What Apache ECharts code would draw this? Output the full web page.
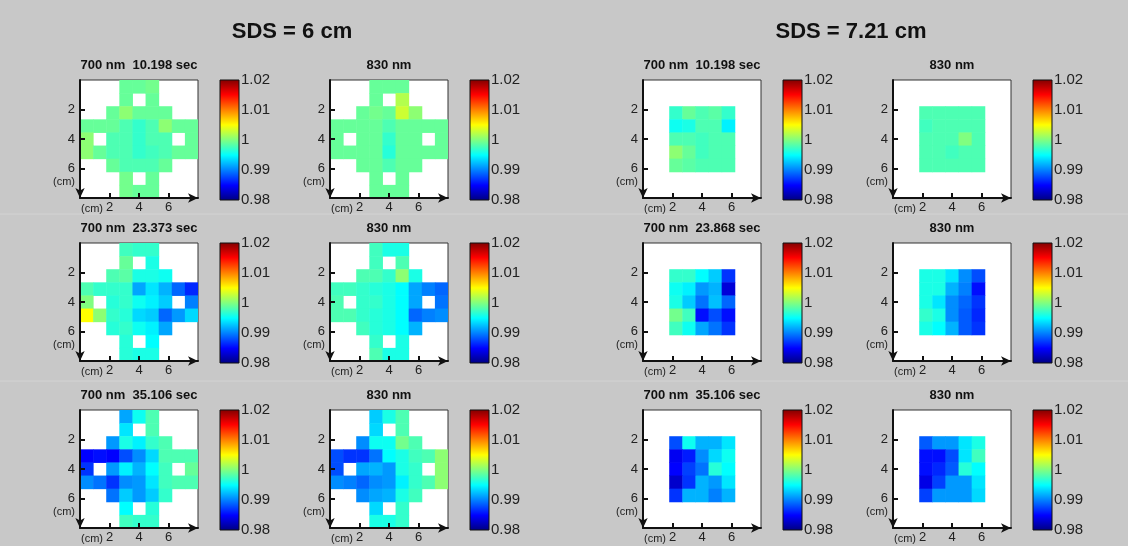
<!DOCTYPE html>
<html>
<head>
<meta charset="utf-8">
<script src="https://cdn.jsdelivr.net/npm/echarts@6/dist/echarts.min.js"></script>
<style>
  html, body { margin: 0; padding: 0; background: #c8c8c8; }
  #main { width: 1128px; height: 546px; }
</style>
</head>
<body>
<div id="main"></div>
<script>
// colour scale (jet) and limits of the colour bar
var SCALE_MIN = 0.98, SCALE_MAX = 1.02;
var JET = ['#000080', '#0000ff', '#0080ff', '#00ffff', '#80ff80', '#ffff00', '#ff8000', '#ff0000', '#800000'];
var CELL = 8 / 9;      // cm per pixel of the image grid
var TICKS = [2, 4, 6];

var n = null;
// SDS = 6 cm, 9 x 9 grid (rows from top)
var sds6_700_t1 = [
  [n, n, n, 0.999, 0.999, 0.9995, n, n, n],
  [n, n, n, 0.999, n, 0.999, n, n, n],
  [n, n, 0.999, 1.0005, 0.999, 0.999, 0.999, n, n],
  [0.999, 0.999, 0.999, 0.998, 0.997, 0.998, 1.0005, 0.999, 0.999],
  [1.0005, n, 0.998, 0.998, 0.997, 0.998, 0.998, n, 0.999],
  [1.0005, 0.999, 0.998, 0.998, 0.997, 0.9975, 0.998, 0.999, 0.999],
  [n, n, 0.999, 0.998, 0.998, 0.998, 0.999, n, n],
  [n, n, n, 0.9995, n, 0.999, n, n, n],
  [n, n, n, 0.9995, 0.999, 0.999, n, n, n]
];
var sds6_830_t1 = [
  [n, n, n, 0.999, 0.999, 0.999, n, n, n],
  [n, n, n, 0.999, n, 1.002, n, n, n],
  [n, n, 0.999, 0.9995, 0.999, 1.003, 1.0005, n, n],
  [0.999, 0.999, 0.999, 0.999, 0.998, 0.999, 0.999, 0.999, 0.999],
  [0.999, n, 0.999, 0.999, 0.997, 0.999, 0.999, n, 0.999],
  [0.999, 0.999, 0.999, 0.999, 0.9965, 0.999, 0.999, 0.999, 0.999],
  [n, n, 0.999, 0.999, 0.998, 0.999, 0.999, n, n],
  [n, n, n, 0.999, n, 0.999, n, n, n],
  [n, n, n, 0.999, 0.999, 0.999, n, n, n]
];
var sds6_700_t2 = [
  [n, n, n, 0.9975, 0.997, 0.997, n, n, n],
  [n, n, n, 0.999, n, 0.996, n, n, n],
  [n, n, 0.998, 0.9985, 0.996, 0.996, 0.9955, n, n],
  [0.998, 0.997, 0.997, 0.997, 0.9915, 0.994, 0.992, 0.989, 0.9865],
  [1.000, n, 0.9965, 0.997, 0.9955, 0.9945, 0.993, n, 0.990],
  [1.005, 1.0005, 0.997, 0.9965, 0.9935, 0.993, 0.989, 0.991, 0.9935],
  [n, n, 0.9965, 0.997, 0.9955, 0.9945, 0.9915, n, n],
  [n, n, n, 0.9965, n, 0.995, n, n, n],
  [n, n, n, 0.9965, 0.996, 0.996, n, n, n]
];
var sds6_830_t2 = [
  [n, n, n, 0.9975, 0.996, 0.996, n, n, n],
  [n, n, n, 0.9975, n, 0.998, n, n, n],
  [n, n, 0.998, 0.998, 0.997, 1.0005, 0.996, n, n],
  [0.9975, 0.9975, 0.997, 0.9965, 0.996, 0.995, 0.9915, 0.990, 0.989],
  [0.998, n, 0.997, 0.997, 0.996, 0.995, 0.9915, n, 0.9895],
  [0.998, 0.998, 0.997, 0.9965, 0.996, 0.995, 0.989, 0.990, 0.9905],
  [n, n, 0.9975, 0.9965, 0.996, 0.995, 0.992, n, n],
  [n, n, n, 0.997, n, 0.996, n, n, n],
  [n, n, n, 0.998, 0.996, 0.996, n, n, n]
];
var sds6_700_t3 = [
  [n, n, n, 0.9915, 0.9955, 0.998, n, n, n],
  [n, n, n, 0.994, n, 0.998, n, n, n],
  [n, n, 0.991, 0.996, 0.9945, 0.997, 0.998, n, n],
  [0.985, 0.9855, 0.985, 0.988, 0.9905, 0.9935, 0.998, 0.998, 0.998],
  [0.987, n, 0.991, 0.9945, 0.992, 0.995, 0.9975, n, 0.999],
  [0.9905, 0.9895, 0.987, 0.9905, 0.991, 0.994, 0.9975, 0.998, 0.998],
  [n, n, 0.9895, 0.993, 0.991, 0.993, 0.997, n, n],
  [n, n, n, 0.995, n, 0.9965, n, n, n],
  [n, n, n, 0.9975, 0.997, 0.997, n, n, n]
];
var sds6_830_t3 = [
  [n, n, n, 0.993, 0.996, 0.998, n, n, n],
  [n, n, n, 0.9935, n, 0.998, n, n, n],
  [n, n, 0.9905, 0.9955, 0.9955, 0.9995, 0.998, n, n],
  [0.988, 0.987, 0.987, 0.9895, 0.995, 0.996, 0.9975, 0.998, 1.0005],
  [0.988, n, 0.9915, 0.992, 0.991, 0.996, 0.997, n, 1.0005],
  [0.9905, 0.990, 0.989, 0.9905, 0.991, 0.9945, 0.997, 0.998, 1.0005],
  [n, n, 0.9905, 0.9915, 0.992, 0.996, 0.9975, n, n],
  [n, n, n, 0.9935, n, 0.997, n, n, n],
  [n, n, n, 0.996, 0.996, 0.997, n, n, n]
];
// SDS = 7.21 cm, 5 x 5 grid starting at grid cell 2
var sds7_700_t1 = [
  [0.997, 0.999, 0.998, 0.9985, 0.997],
  [0.9955, 0.996, 0.998, 0.998, 0.9945],
  [0.998, 0.998, 0.9975, 0.998, 0.998],
  [1.0005, 0.999, 0.9975, 0.998, 0.998],
  [0.999, 0.9985, 0.998, 0.998, 0.998]
];
var sds7_830_t1 = [
  [0.998, 0.998, 0.998, 0.998, 0.998],
  [0.9975, 0.998, 0.998, 0.998, 0.998],
  [0.998, 0.998, 0.998, 1.000, 0.998],
  [0.998, 0.998, 0.9975, 0.998, 0.998],
  [0.998, 0.998, 0.998, 0.998, 0.998]
];
var sds7_700_t2 = [
  [0.997, 0.997, 0.995, 0.993, 0.987],
  [0.9955, 0.9945, 0.991, 0.992, 0.9835],
  [0.996, 0.993, 0.9895, 0.9925, 0.989],
  [0.9995, 0.9975, 0.9855, 0.988, 0.9855],
  [0.9975, 0.9955, 0.9915, 0.9895, 0.987]
];
var sds7_830_t2 = [
  [0.996, 0.996, 0.994, 0.9905, 0.988],
  [0.996, 0.996, 0.992, 0.990, 0.9855],
  [0.996, 0.994, 0.9905, 0.989, 0.987],
  [0.997, 0.996, 0.9905, 0.9885, 0.9865],
  [0.996, 0.995, 0.992, 0.9885, 0.987]
];
var sds7_700_t3 = [
  [0.988, 0.9955, 0.992, 0.992, 0.994],
  [0.9845, 0.986, 0.9905, 0.9935, 0.9955],
  [0.985, 0.9875, 0.9895, 0.9965, 0.995],
  [0.983, 0.987, 0.992, 0.991, 0.994],
  [0.987, 0.992, 0.992, 0.990, 0.992]
];
var sds7_830_t3 = [
  [0.9885, 0.991, 0.991, 0.994, 0.996],
  [0.9855, 0.9855, 0.988, 0.994, 0.9975],
  [0.9855, 0.9865, 0.9885, 0.9965, 0.995],
  [0.984, 0.9875, 0.991, 0.991, 0.994],
  [0.9875, 0.991, 0.991, 0.991, 0.9935]
];

var groupTitles = ['SDS = 6 cm', 'SDS = 7.21 cm'];
var panelTitles = [
  ['700 nm  10.198 sec', '830 nm', '700 nm  10.198 sec', '830 nm'],
  ['700 nm  23.373 sec', '830 nm', '700 nm  23.868 sec', '830 nm'],
  ['700 nm  35.106 sec', '830 nm', '700 nm  35.106 sec', '830 nm']
];
var panelData = [
  [sds6_700_t1, sds6_830_t1, sds7_700_t1, sds7_830_t1],
  [sds6_700_t2, sds6_830_t2, sds7_700_t2, sds7_830_t2],
  [sds6_700_t3, sds6_830_t3, sds7_700_t3, sds7_830_t3]
];
var panelOffset = [0, 0, 2, 2];

(function () {
  // layout
  var colLeft = [80, 330, 643, 893];
  var barLeft = [220, 470, 783, 1033];
  var rowTop = [80, 243, 410];
  var PLOT = 118, BAR_W = 19, BAR_H = 120;
  var groupCenter = [292, 851];
  var FONT = 'Arial, "Liberation Sans", sans-serif';

  function renderCell(params, api) {
    var c = api.value(0), r = api.value(1);
    var a = api.coord([c * CELL, r * CELL]);
    var b = api.coord([(c + 1) * CELL, (r + 1) * CELL]);
    return {
      type: 'rect',
      shape: {
        x: Math.min(a[0], b[0]), y: Math.min(a[1], b[1]),
        width: Math.abs(b[0] - a[0]) + 0.5, height: Math.abs(b[1] - a[1]) + 0.5
      },
      style: { fill: api.visual('color') }
    };
  }

  var barGradient = JET.map(function (c, i) { return { offset: i / (JET.length - 1), color: c }; });
  function renderBar(params, api) {
    var a = api.coord([0, api.value(0)]);
    var b = api.coord([1, api.value(1)]);
    return {
      type: 'rect',
      shape: {
        x: Math.min(a[0], b[0]), y: Math.min(a[1], b[1]),
        width: Math.abs(b[0] - a[0]), height: Math.abs(b[1] - a[1])
      },
      style: {
        fill: new echarts.graphic.LinearGradient(0, 1, 0, 0, barGradient),
        stroke: '#111', lineWidth: 1
      }
    };
  }

  var grids = [], xAxes = [], yAxes = [], series = [], titles = [], graphics = [];
  var heatIdx = [];

  groupTitles.forEach(function (t, g) {
    titles.push({
      text: t, left: groupCenter[g], top: 21, textAlign: 'center', padding: 0,
      textStyle: { fontFamily: FONT, fontSize: 22, fontWeight: 'bold', color: '#111' }
    });
  });

  // faint seams between the stacked rows
  [214, 381].forEach(function (y) {
    graphics.push({ type: 'line', shape: { x1: 0, y1: y, x2: 1128, y2: y }, z: 0,
      style: { stroke: '#d3d3d3', lineWidth: 1 } });
  });

  for (var r = 0; r < 3; r++) {
    for (var c = 0; c < 4; c++) {
      var pl = colLeft[c], pt = rowTop[r];
      var mat = panelData[r][c], off = panelOffset[c];
      var data = [];
      for (var i = 0; i < mat.length; i++) {
        for (var j = 0; j < mat[i].length; j++) {
          if (mat[i][j] !== null) data.push([j + off, i + off, mat[i][j]]);
        }
      }

      titles.push({
        text: panelTitles[r][c], left: pl + PLOT / 2, top: pt - 21, textAlign: 'center', padding: 0,
        textStyle: { fontFamily: FONT, fontSize: 13, fontWeight: 'bold', color: '#111' }
      });

      // heat map grid
      var gi = grids.length;
      grids.push({ left: pl, top: pt, width: PLOT, height: PLOT, show: true,
        backgroundColor: '#fff', borderColor: '#333', borderWidth: 1 });
      xAxes.push({
        gridIndex: gi, type: 'value', min: 0, max: 8, position: 'bottom', z: 5,
        axisLine: { show: true, onZero: false, symbol: ['none', 'arrow'], symbolSize: [7, 10],
          lineStyle: { color: '#111', width: 2 } },
        axisTick: { show: true, inside: true, length: 5, customValues: TICKS, lineStyle: { color: '#111', width: 2 } },
        axisLabel: { customValues: TICKS, fontFamily: FONT, fontSize: 13, color: '#222', margin: 3 },
        splitLine: { show: false }
      });
      yAxes.push({
        gridIndex: gi, type: 'value', min: 0, max: 8, inverse: true, position: 'left', z: 5,
        axisLine: { show: true, onZero: false, symbol: ['arrow', 'none'], symbolSize: [7, 10],
          lineStyle: { color: '#111', width: 2 } },
        axisTick: { show: true, inside: true, length: 5, customValues: TICKS, lineStyle: { color: '#111', width: 2 } },
        axisLabel: { customValues: TICKS, fontFamily: FONT, fontSize: 13, color: '#222', margin: 5 },
        splitLine: { show: false }
      });
      heatIdx.push(series.length);
      series.push({ type: 'custom', xAxisIndex: gi, yAxisIndex: gi, renderItem: renderCell,
        data: data, clip: true, silent: true });

      // colour bar grid
      var bi = grids.length;
      grids.push({ left: barLeft[c], top: pt, width: BAR_W, height: BAR_H });
      xAxes.push({ gridIndex: bi, type: 'value', min: 0, max: 1, show: false });
      yAxes.push({
        gridIndex: bi, type: 'value', min: SCALE_MIN, max: SCALE_MAX, interval: 0.01, position: 'right',
        axisLine: { show: false }, axisTick: { show: false }, splitLine: { show: false },
        axisLabel: { fontFamily: FONT, fontSize: 15, color: '#222', margin: 2 }
      });
      series.push({ type: 'custom', xAxisIndex: bi, yAxisIndex: bi, renderItem: renderBar,
        data: [[SCALE_MIN, SCALE_MAX]], silent: true, z: 1 });

      graphics.push({ type: 'text', x: pl - 5, y: pt + 102, z: 10,
        style: { text: '(cm)', align: 'right', verticalAlign: 'middle', font: '11px ' + FONT, fill: '#222' } });
      graphics.push({ type: 'text', x: pl + 1, y: pt + 129, z: 10,
        style: { text: '(cm)', align: 'left', verticalAlign: 'middle', font: '11px ' + FONT, fill: '#222' } });
    }
  }

  var chart = echarts.init(document.getElementById('main'), null, { renderer: 'canvas' });
  chart.setOption({
    backgroundColor: '#c8c8c8',
    animation: false,
    title: titles,
    grid: grids,
    xAxis: xAxes,
    yAxis: yAxes,
    visualMap: {
      type: 'continuous', show: false, min: SCALE_MIN, max: SCALE_MAX, dimension: 2,
      seriesIndex: heatIdx, inRange: { color: JET }
    },
    graphic: graphics,
    series: series
  });
})();
</script>
</body>
</html>
